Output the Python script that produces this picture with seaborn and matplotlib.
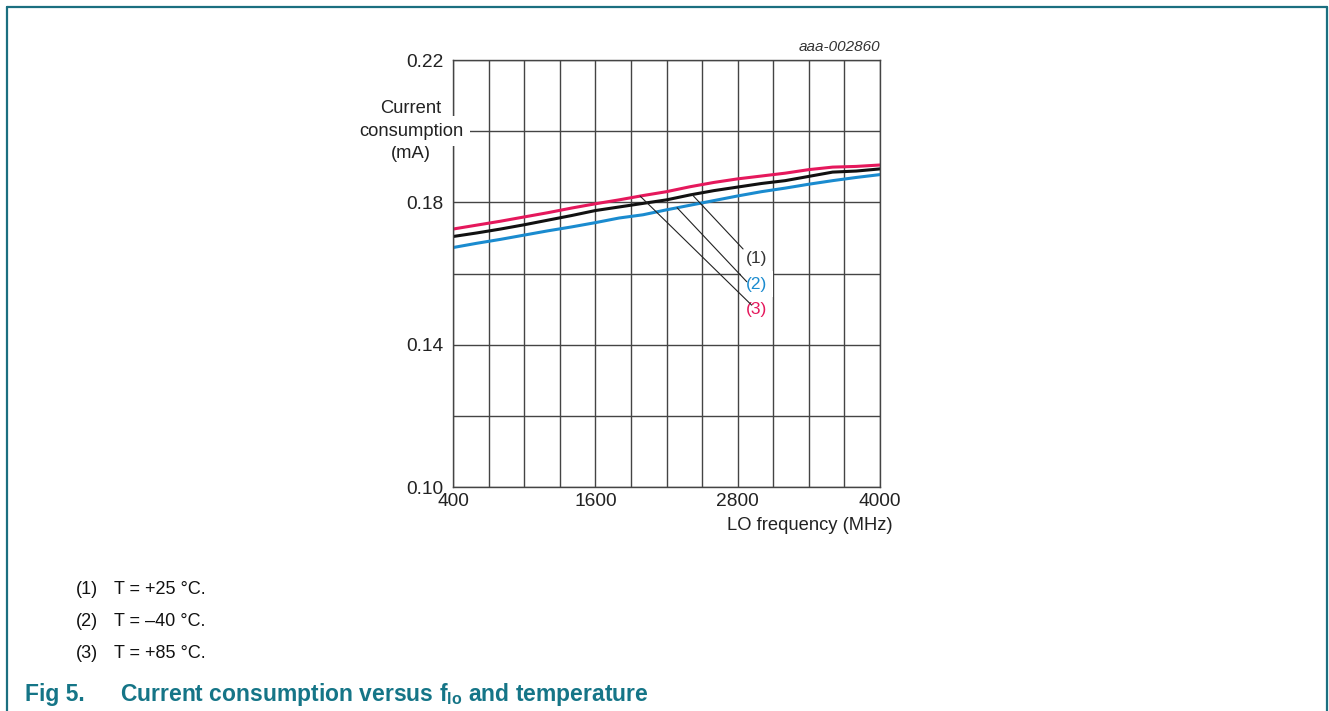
import numpy as np
import pandas as pd
import matplotlib
matplotlib.use("Agg")
import matplotlib.pyplot as plt
from matplotlib.lines import Line2D
import seaborn as sns

# ---- data ----
freq_mhz = [400, 600, 800, 1000, 1200, 1400, 1600, 1800, 2000, 2200,
            2400, 2600, 2800, 3000, 3200, 3400, 3600, 3800, 4000]
i_p25 = [0.1704, 0.1714, 0.1725, 0.1737, 0.1750, 0.1763, 0.1777, 0.1787, 0.1797, 0.1807,
         0.1821, 0.1833, 0.1843, 0.1853, 0.1861, 0.1873, 0.1885, 0.1888, 0.1894]
i_m40 = [0.1673, 0.1685, 0.1696, 0.1708, 0.1720, 0.1731, 0.1743, 0.1756, 0.1765, 0.1779,
         0.1792, 0.1805, 0.1818, 0.1830, 0.1840, 0.1851, 0.1861, 0.1870, 0.1878]
i_p85 = [0.1725, 0.1736, 0.1747, 0.1759, 0.1771, 0.1784, 0.1796, 0.1807, 0.1819, 0.1830,
         0.1844, 0.1856, 0.1866, 0.1874, 0.1882, 0.1892, 0.1899, 0.1901, 0.1905]
series_names = ["(1)", "(2)", "(3)"]
series_colors = ["#111111", "#1a8bcf", "#e5185c"]
footnotes = ["T = +25 \u00b0C.", "T = \u201340 \u00b0C.", "T = +85 \u00b0C."]
x_ticks = [400, 1600, 2800, 4000]
y_ticks = [0.10, 0.14, 0.18, 0.22]

sns.set_theme(style="white")
plt.rcParams["font.family"] = ["Liberation Sans", "DejaVu Sans"]
plt.rcParams["mathtext.fontset"] = "custom"
plt.rcParams["mathtext.rm"] = "Liberation Sans"
plt.rcParams["mathtext.bf"] = "Liberation Sans:bold"

df = pd.concat([
    pd.DataFrame({"f": freq_mhz, "I": vals, "s": name})
    for name, vals in zip(series_names, [i_p25, i_m40, i_p85])
])

fig = plt.figure(figsize=(13.29, 7.11), dpi=100)
ax = fig.add_axes([0.3409, 0.3150, 0.3213, 0.6006])

sns.lineplot(data=df, x="f", y="I", hue="s", palette=dict(zip(series_names, series_colors)),
             hue_order=["(3)", "(1)", "(2)"], lw=2.2, legend=False, ax=ax, zorder=2)

gc = "#444444"
tc = "#222222"
ax.set_xlim(400, 4000)
ax.set_ylim(0.10, 0.22)
ax.set_xticks(x_ticks)
ax.set_xticks(np.arange(400, 4001, 300), minor=True)
ax.set_yticks(y_ticks)
ax.set_yticks(np.arange(0.10, 0.2201, 0.02), minor=True)
ax.set_xticklabels([str(v) for v in x_ticks])
ax.set_yticklabels([f"{v:.2f}" for v in y_ticks])
ax.grid(True, which="both", color=gc, lw=1.0, zorder=0.5)
ax.set_axisbelow(True)
ax.tick_params(which="both", length=0, labelsize=13.8, colors=tc)
ax.tick_params(axis="y", pad=7)
ax.tick_params(axis="x", pad=4)
for sp in ax.spines.values():
    sp.set_color(gc)
    sp.set_linewidth(1.0)
ax.set_xlabel("")
ax.set_ylabel("")

# axis labels
ax.text(1.0304, -0.0890, "LO frequency (MHz)", transform=ax.transAxes, ha="right", va="center",
        fontsize=13.2, color=tc)
ax.text(-0.0984, 0.8876, "Current", transform=ax.transAxes, ha="center", va="center",
        fontsize=13.2, color=tc)
ax.text(-0.0984, 0.8337, "consumption", transform=ax.transAxes, ha="center", va="center",
        fontsize=13.2, color=tc, zorder=5,
        bbox=dict(fc="white", ec="none", boxstyle="square,pad=0.35"))
ax.text(-0.0984, 0.7799, "(mA)", transform=ax.transAxes, ha="center", va="center",
        fontsize=13.2, color=tc)
ax.text(1.0, 1.0304, "aaa-002860", transform=ax.transAxes, ha="right", va="center",
        fontsize=11, style="italic", color="#333333")

# curve labels with leader lines
series_vals = {"(1)": i_p25, "(2)": i_m40, "(3)": i_p85}
leader_from = {"(1)": 2415, "(2)": 2289, "(3)": 1977}
leader_to = {"(1)": (2845, 0.1669), "(2)": (2876, 0.1577), "(3)": (2918, 0.1511)}
label_pos = {"(1)": (2960, 0.1641), "(2)": (2960, 0.1570), "(3)": (2960, 0.1499)}
for name, col in zip(series_names, series_colors):
    fx = leader_from[name]
    fy = float(np.interp(fx, freq_mhz, series_vals[name]))
    ax.annotate("", xy=(fx, fy), xytext=leader_to[name],
                arrowprops=dict(arrowstyle="-", lw=0.8, color="#222222",
                                shrinkA=0, shrinkB=0), zorder=6)
    kw = {}
    if name == "(2)":
        kw["bbox"] = dict(fc="white", ec="none", boxstyle="square,pad=0.3")
    ax.text(*label_pos[name], name, ha="center", va="center", fontsize=12.5,
            color=("#333333" if name == "(1)" else col), zorder=5, **kw)

# footnotes and caption
W, H = 1329.0, 711.0
for k, (name, note) in enumerate(zip(series_names, footnotes)):
    y = 1 - [590, 622, 654][k] / H
    fig.text(76 / W, y, name, ha="left", va="center", fontsize=13, color="#111111")
    fig.text(114 / W, y, note, ha="left", va="center", fontsize=13, color="#111111")

teal = "#157587"
fig.text(25 / W, 1 - 694 / H, "Fig 5.", ha="left", va="center", fontsize=16.5,
         fontweight="bold", color=teal)
fig.text(120 / W, 1 - 694 / H, r"Current consumption versus $\mathbf{f_{lo}}$ and temperature",
         ha="left", va="center", fontsize=16.5, fontweight="bold", color=teal)

# page frame
fc = "#1b6f80"
fig.add_artist(Line2D([7 / W, 7 / W], [0, 1 - 7 / H], color=fc, lw=1.6))
fig.add_artist(Line2D([7 / W, 1327 / W], [1 - 7 / H, 1 - 7 / H], color=fc, lw=1.6))
fig.add_artist(Line2D([1327 / W, 1327 / W], [0, 1 - 7 / H], color=fc, lw=1.6))

fig.savefig("out.png", dpi=100, facecolor="white")
